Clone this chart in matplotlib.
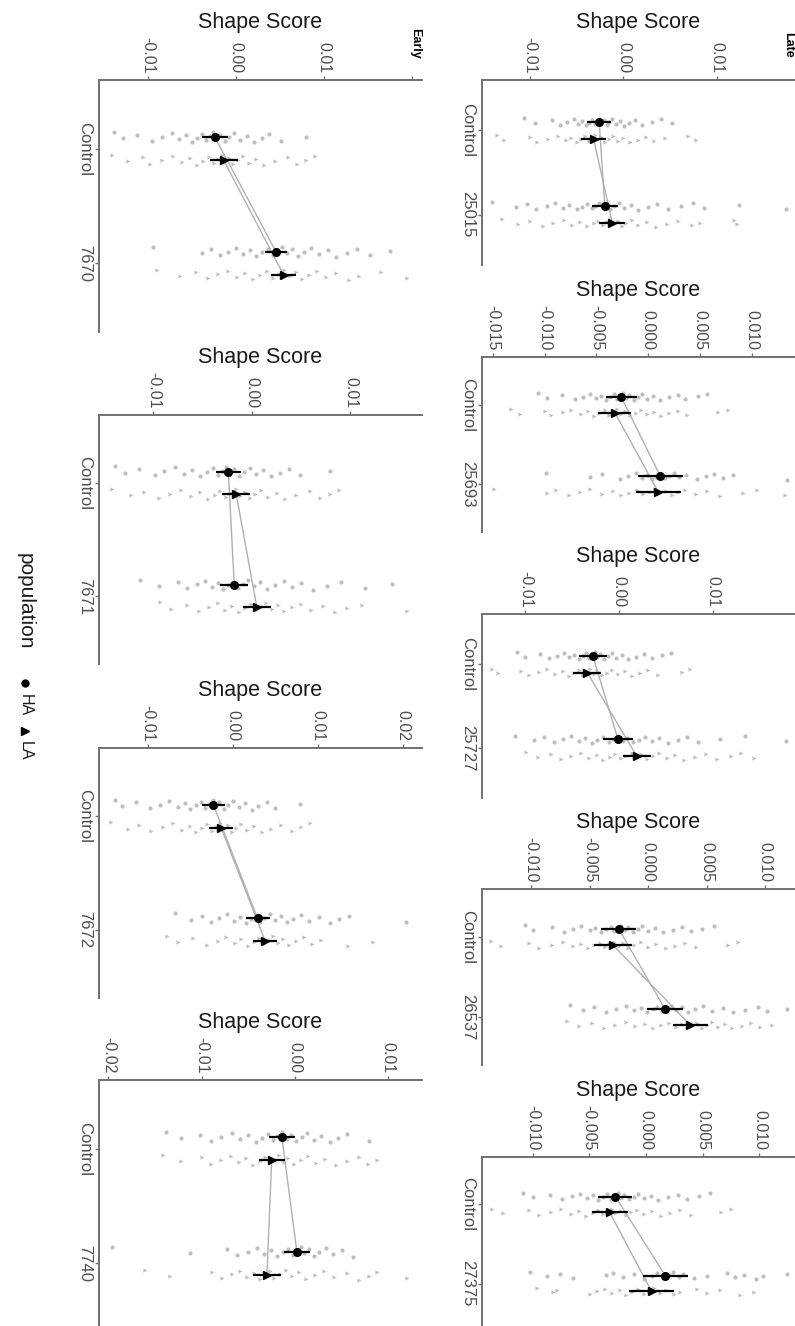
import matplotlib
matplotlib.use("Agg")
import matplotlib.pyplot as plt
import numpy as np

plt.rcParams['font.family'] = ['Liberation Sans', 'DejaVu Sans']
plt.rcParams['axes.unicode_minus'] = False

W, H = 795, 1326

# --- data (shape scores in units of 1e-3) ---
lines = ["25015", "25693", "25727", "26537", "27375", "7670", "7671", "7672", "7740"]
groups = ["Late"] * 5 + ["Early"] * 4

ha_ctrl_mean = [-2.6, -2.6, -2.8, -2.5, -2.7, -2.4, -2.4, -2.3, -1.4]
la_ctrl_mean = [-3.2, -3.2, -3.4, -3.0, -3.2, -1.4, -1.6, -1.4, -2.5]
ha_trt_mean = [-2.0, 1.2, -0.1, 1.45, 1.7, 4.55, -1.8, 2.9, 0.2]
la_trt_mean = [-1.2, 1.0, 1.9, 3.6, 0.5, 5.4, 0.5, 3.8, -3.0]

ha_ctrl_err = [1.3, 1.5, 1.5, 1.5, 1.5, 1.5, 1.3, 1.4, 1.4]
la_ctrl_err = [1.3, 1.6, 1.5, 1.6, 1.6, 1.6, 1.4, 1.4, 1.4]
ha_trt_err = [1.4, 2.2, 1.6, 1.5, 2.0, 1.3, 1.4, 1.4, 1.4]
la_trt_err = [1.4, 2.2, 1.5, 1.5, 2.0, 1.4, 1.4, 1.4, 1.5]

ha_ctrl_pts = [
    [-10.6, -9.5, -7.6, -6.8, -6.0, -5.3, -4.9, -4.4, -4.0, -3.7, -3.4, -3.1, -2.9, -2.6, -2.4, -2.1, -1.8, -1.5, -1.2, -0.8, -0.4, 0.1, 0.6, 1.2, 2.0, 3.1, 4.0, 5.2],
    [-10.6, -9.8, -8.3, -7.1, -6.3, -5.6, -5.0, -4.5, -4.1, -3.7, -3.3, -3.0, -2.7, -2.4, -2.1, -1.8, -1.4, -1.0, -0.6, -0.1, 0.5, 1.2, 2.0, 2.9, 3.6, 4.8, 5.7],
    [-10.9, -10.0, -8.4, -7.5, -6.6, -5.9, -5.3, -4.8, -4.3, -3.9, -3.5, -3.2, -2.9, -2.6, -2.3, -2.0, -1.6, -1.2, -0.8, -0.3, 0.3, 1.0, 1.8, 2.7, 3.5, 4.6, 5.6],
    [-10.5, -9.8, -8.2, -7.2, -6.4, -5.7, -5.0, -4.5, -4.0, -3.6, -3.2, -2.9, -2.6, -2.3, -2.0, -1.7, -1.3, -0.9, -0.5, 0.0, 0.6, 1.3, 2.1, 2.9, 3.7, 4.6, 5.6],
    [-10.8, -10.0, -8.5, -7.4, -6.5, -5.8, -5.2, -4.7, -4.2, -3.8, -3.4, -3.1, -2.8, -2.5, -2.2, -1.9, -1.5, -1.1, -0.7, -0.2, 0.4, 1.1, 1.9, 2.8, 3.6, 4.7, 5.6],
    [-13.9, -12.8, -11.2, -9.5, -8.4, -7.3, -6.5, -5.7, -5.0, -4.4, -3.9, -3.4, -3.0, -2.6, -2.2, -1.8, -1.3, -0.8, -0.2, 0.5, 1.2, 2.0, 2.9, 3.8, 5.1, 8.0],
    [-13.9, -12.9, -11.5, -9.8, -8.9, -7.8, -6.9, -6.1, -5.3, -4.6, -4.0, -3.5, -3.0, -2.6, -2.2, -1.8, -1.3, -0.8, -0.2, 0.4, 1.1, 1.9, 2.8, 3.8, 4.9, 7.9],
    [-13.9, -13.0, -11.4, -9.8, -8.6, -7.5, -6.5, -5.7, -5.0, -4.4, -3.8, -3.3, -2.8, -2.4, -2.0, -1.6, -1.1, -0.6, 0.0, 0.7, 1.4, 2.2, 3.0, 4.0, 5.0, 7.9],
    [-13.8, -12.2, -10.2, -9.0, -7.9, -6.8, -5.9, -5.0, -4.2, -3.5, -2.9, -2.4, -1.9, -1.4, -0.9, -0.4, 0.1, 0.7, 1.3, 2.0, 2.8, 3.7, 4.6, 5.6, 7.9],
]
la_ctrl_pts = [
    [-13.5, -12.8, -10.0, -9.2, -8.1, -7.0, -6.2, -5.6, -5.0, -4.5, -4.1, -3.7, -3.4, -3.1, -2.8, -2.4, -2.0, -1.6, -1.1, -0.6, 0.0, 0.7, 1.5, 2.4, 3.3, 4.4, 6.9, 7.8],
    [-13.2, -12.4, -10.0, -9.4, -8.2, -7.4, -6.5, -5.8, -5.2, -4.7, -4.2, -3.8, -3.4, -3.0, -2.6, -2.2, -1.7, -1.2, -0.7, -0.1, 0.6, 1.3, 2.0, 2.9, 3.8, 6.8, 7.7],
    [-13.6, -12.9, -10.5, -9.6, -8.6, -7.7, -6.8, -6.0, -5.4, -4.8, -4.3, -3.9, -3.5, -3.1, -2.7, -2.3, -1.8, -1.3, -0.7, -0.1, 0.6, 1.4, 2.2, 3.1, 4.2, 6.7, 7.6],
    [-13.4, -12.6, -10.2, -9.3, -8.2, -7.3, -6.4, -5.7, -5.1, -4.6, -4.1, -3.7, -3.3, -2.9, -2.5, -2.1, -1.7, -1.2, -0.6, 0.0, 0.7, 1.5, 2.3, 3.2, 4.1, 6.8, 7.7],
    [-13.6, -12.6, -10.3, -9.4, -8.4, -7.5, -6.6, -5.9, -5.3, -4.7, -4.2, -3.8, -3.4, -3.0, -2.6, -2.2, -1.8, -1.3, -0.8, -0.2, 0.5, 1.3, 2.1, 3.0, 4.0, 6.6, 7.5],
    [-14.1, -12.3, -10.6, -9.8, -8.4, -7.2, -6.1, -5.2, -4.4, -3.7, -3.1, -2.5, -2.0, -1.6, -1.2, -0.8, -0.3, 0.2, 0.8, 1.5, 2.3, 3.2, 4.4, 5.9, 6.9, 8.0, 9.0],
    [-14.2, -12.3, -11.0, -9.4, -8.3, -7.2, -6.2, -5.3, -4.5, -3.8, -3.2, -2.6, -2.1, -1.6, -1.2, -0.7, -0.2, 0.3, 0.9, 1.6, 2.5, 3.4, 4.5, 5.9, 6.9, 7.9, 8.8],
    [-14.3, -12.4, -11.0, -9.6, -8.2, -7.0, -6.0, -5.1, -4.4, -3.7, -3.1, -2.5, -2.0, -1.5, -1.1, -0.6, -0.1, 0.4, 1.0, 1.7, 2.5, 3.4, 4.5, 5.7, 7.0, 8.0, 9.1],
    [-14.1, -12.2, -10.0, -9.0, -7.9, -6.9, -6.0, -5.2, -4.5, -3.8, -3.2, -2.7, -2.2, -1.7, -1.2, -0.7, -0.1, 0.6, 1.4, 2.3, 3.2, 4.4, 5.6, 6.9, 7.8, 8.8],
]
ha_trt_pts = [
    [-14.1, -11.5, -10.3, -9.4, -8.2, -7.3, -6.5, -5.8, -5.0, -4.4, -3.9, -3.4, -3.0, -2.6, -2.2, -1.8, -1.4, -1.0, -0.5, 0.1, 0.8, 1.6, 2.6, 3.6, 4.8, 6.2, 7.4, 8.6, 12.4, 17.4],
    [-9.9, -5.6, -4.4, -2.7, -1.9, -1.2, -0.6, -0.1, 0.4, 0.8, 1.2, 1.6, 2.0, 2.5, 3.0, 3.7, 4.7, 5.6, 6.4, 7.2, 8.2, 13.4],
    [-11.1, -9.1, -8.0, -7.0, -6.0, -5.1, -4.3, -3.6, -2.9, -2.3, -1.7, -1.1, -0.6, -0.1, 0.4, 0.9, 1.5, 2.1, 2.8, 3.5, 4.3, 5.2, 6.3, 7.3, 8.4, 10.8, 13.5, 17.9],
    [-6.7, -5.6, -4.6, -3.6, -2.7, -1.9, -1.2, -0.6, -0.1, 0.4, 0.8, 1.2, 1.6, 2.0, 2.4, 2.9, 3.4, 4.0, 4.7, 5.5, 6.4, 7.3, 8.3, 9.4, 10.2, 11.9],
    [-10.2, -8.7, -7.6, -6.4, -3.5, -2.9, -2.0, -1.1, -0.2, 0.5, 1.0, 1.5, 2.0, 2.4, 2.9, 3.3, 4.2, 5.4, 7.1, 7.8, 8.6, 9.7, 10.3, 12.4],
    [-9.4, -3.9, -2.8, -1.8, -0.9, 0.0, 0.8, 1.6, 2.3, 3.0, 3.6, 4.2, 4.7, 5.2, 5.8, 6.4, 7.0, 7.7, 8.5, 9.4, 10.4, 11.4, 12.6, 13.8, 15.2, 17.5],
    [-11.4, -9.4, -7.5, -6.6, -5.6, -4.8, -4.1, -3.5, -2.9, -2.4, -1.9, -1.4, -0.9, -0.4, 0.2, 0.8, 1.5, 2.3, 3.2, 4.1, 5.0, 6.2, 7.6, 9.0, 11.5, 14.2],
    [-6.8, -4.9, -3.6, -2.6, -1.6, -0.7, 0.1, 0.8, 1.5, 2.1, 2.7, 3.2, 3.7, 4.3, 4.9, 5.6, 6.3, 7.1, 8.0, 9.0, 10.1, 11.4, 12.5, 13.6, 20.4],
    [-19.6, -11.3, -7.3, -6.2, -5.0, -4.1, -3.3, -2.6, -1.9, -1.3, -0.7, -0.2, 0.2, 0.6, 1.0, 1.5, 2.0, 2.6, 3.3, 4.1, 5.0, 6.2],
]
la_trt_pts = [
    [-13.0, -11.3, -10.0, -8.6, -7.5, -6.4, -5.5, -4.6, -3.9, -3.2, -2.7, -2.2, -1.8, -1.4, -1.0, -0.6, -0.2, 0.3, 0.9, 1.6, 2.5, 3.5, 4.6, 5.8, 7.3, 8.2, 11.8, 12.1],
    [-14.9, -9.8, -8.9, -7.6, -6.6, -5.6, -4.4, -3.4, -2.6, -1.8, -1.1, -0.5, 0.2, 0.7, 1.2, 1.7, 2.3, 2.9, 3.6, 4.6, 5.7, 7.0, 9.2, 10.5, 13.2],
    [-9.9, -8.7, -7.3, -6.2, -5.1, -4.1, -3.2, -2.4, -1.7, -1.0, -0.4, 0.2, 0.8, 1.4, 1.9, 2.4, 3.0, 3.6, 4.3, 5.1, 6.0, 7.0, 8.1, 9.3, 10.5, 12.0, 13.0, 14.4],
    [-6.9, -5.9, -4.8, -3.8, -2.8, -1.9, -1.1, -0.3, 0.4, 1.1, 1.8, 2.4, 2.9, 3.4, 3.8, 4.2, 4.6, 5.0, 5.5, 6.0, 6.6, 7.2, 8.0, 8.8, 9.6, 10.6],
    [-9.6, -8.2, -7.8, -4.9, -4.3, -3.6, -3.0, -2.3, -1.8, -1.2, -0.7, -0.2, 0.3, 0.7, 1.2, 1.8, 2.5, 3.0, 4.5, 5.4, 6.5, 8.3, 9.5],
    [-9.0, -6.4, -4.5, -3.2, -2.0, -0.9, 0.1, 1.0, 1.9, 2.7, 3.5, 4.2, 4.9, 5.5, 6.1, 6.8, 7.5, 8.3, 9.2, 10.2, 11.4, 12.8, 14.0, 16.5, 19.4],
    [-9.3, -8.2, -6.6, -5.4, -4.4, -3.5, -2.7, -2.0, -1.3, -0.7, -0.1, 0.4, 0.9, 1.4, 2.0, 2.6, 3.3, 4.1, 5.0, 6.0, 7.2, 8.4, 9.6, 11.2, 15.7],
    [-7.8, -6.5, -4.7, -3.0, -1.8, -0.8, 0.2, 1.0, 1.8, 2.5, 3.1, 3.7, 4.2, 4.7, 5.3, 5.9, 6.6, 7.4, 8.3, 9.3, 10.4, 13.5, 16.5],
    [-16.1, -13.4, -8.9, -7.8, -6.8, -5.9, -5.1, -4.4, -3.8, -3.2, -2.7, -2.2, -1.6, -1.0, -0.3, 0.4, 1.2, 2.1, 3.1, 4.2, 5.6, 6.9, 7.9, 8.8, 12.0],
]

# --- layout (pixels: left, top, right, bottom) and scales ---
boxes = [
    (482, 80, 795, 265), (482, 357, 795, 532), (482, 614, 795, 798),
    (482, 889, 795, 1065), (482, 1157, 795, 1331),
    (99, 80, 422, 332), (99, 415, 422, 664), (99, 748, 422, 998), (99, 1080, 422, 1332),
]
xlims = [(-0.01513, 0.01834), (-0.01604, 0.0142), (-0.01465, 0.01882),
         (-0.01419, 0.01256), (-0.01445, 0.01313), (-0.01557, 0.02114),
         (-0.01553, 0.01726), (-0.01576, 0.02224), (-0.0210, 0.01361)]
xticks = [[-0.01, 0, 0.01], [-0.015, -0.01, -0.005, 0, 0.005, 0.01], [-0.01, 0, 0.01],
          [-0.01, -0.005, 0, 0.005, 0.01], [-0.01, -0.005, 0, 0.005, 0.01],
          [-0.01, 0, 0.01, 0.02], [-0.01, 0, 0.01], [-0.01, 0, 0.01, 0.02],
          [-0.02, -0.01, 0, 0.01]]
fmts = ["%.2f", "%.3f", "%.2f", "%.3f", "%.3f", "%.2f", "%.2f", "%.2f", "%.2f"]


def rect(l, t, r, b):
    return [l / W, 1 - b / H, (r - l) / W, (b - t) / H]


fig = plt.figure(figsize=(W / 100, H / 100), dpi=100)

axis_col = "#707070"
text_col = "#4d4d4d"
pt_col = "#8a8a8a"
dodge = 0.1

for i, line in enumerate(lines):
    ax = fig.add_axes(rect(*boxes[i]))
    ax.set_xlim(*xlims[i])
    ax.set_ylim(2.6, 0.4)
    for s in ["right", "bottom"]:
        ax.spines[s].set_visible(False)
    for s in ["left", "top"]:
        ax.spines[s].set_color(axis_col)
        ax.spines[s].set_linewidth(1.4)
    ax.xaxis.tick_top()
    ax.xaxis.set_label_position("top")
    ax.set_xticks(xticks[i])
    labs = [fmts[i] % t for t in xticks[i]]
    if i == 5:
        labs[-1] = ""
    ax.set_xticklabels(labs, rotation=270, va="bottom", ha="center",
                       fontsize=11.5, color=text_col)
    ax.set_yticks([1, 2])
    ax.set_yticklabels(["Control", line], rotation=270, va="center", ha="right",
                       fontsize=12, color=text_col)
    ax.tick_params(length=3, width=1, color=axis_col, pad=2)
    ax.set_xlabel("Shape Score", fontsize=15.5, color="#1a1a1a", labelpad=6)

    # raw scores, jittered inside each population row
    sets = [(ha_ctrl_pts[i], 1 - dodge, "o"), (la_ctrl_pts[i], 1 + dodge, ">"),
            (ha_trt_pts[i], 2 - dodge, "o"), (la_trt_pts[i], 2 + dodge, ">")]
    for vals, pos, mk in sets:
        v = np.array(vals) * 1e-3
        k = np.arange(len(v))
        jit = ((k * 0.618034) % 1 - 0.5) * 0.09
        ax.scatter(v, pos + jit, s=9, marker=mk, color=pt_col, alpha=0.55,
                   linewidths=0, zorder=1)

    # lines joining population means
    ax.plot(np.array([ha_ctrl_mean[i], ha_trt_mean[i]]) * 1e-3, [1 - dodge, 2 - dodge],
            color="#b0b0b0", lw=1, zorder=2)
    ax.plot(np.array([la_ctrl_mean[i], la_trt_mean[i]]) * 1e-3, [1 + dodge, 2 + dodge],
            color="#b0b0b0", lw=1, zorder=2)

    means = [(ha_ctrl_mean[i], ha_ctrl_err[i], 1 - dodge, "o"),
             (la_ctrl_mean[i], la_ctrl_err[i], 1 + dodge, ">"),
             (ha_trt_mean[i], ha_trt_err[i], 2 - dodge, "o"),
             (la_trt_mean[i], la_trt_err[i], 2 + dodge, ">")]
    for m, e, pos, mk in means:
        ax.errorbar(m * 1e-3, pos, xerr=e * 1e-3, fmt=mk, color="black", ms=5.5,
                    elinewidth=1.6, capsize=0, zorder=3)

# group tags
fig.text(415 / W, 1 - 28 / H, "Early", rotation=270, fontsize=9, fontweight="bold",
         ha="center", va="top")
fig.text(788 / W, 1 - 32 / H, "Late", rotation=270, fontsize=9, fontweight="bold",
         ha="center", va="top")

# legend
lg = fig.add_axes(rect(0, 540, 50, 790))
lg.set_xlim(0, 50)
lg.set_ylim(790, 540)
lg.axis("off")
lg.text(25, 553, "population", rotation=270, fontsize=15, ha="center", va="top",
        color="#1a1a1a")
lg.plot([25], [683], "o", color="black", ms=5)
lg.text(25, 694, "HA", rotation=270, fontsize=11.5, ha="center", va="top", color="#1a1a1a")
lg.plot([25], [731], ">", color="black", ms=6)
lg.text(25, 741, "LA", rotation=270, fontsize=11.5, ha="center", va="top", color="#1a1a1a")

fig.savefig("out.png", dpi=100)
